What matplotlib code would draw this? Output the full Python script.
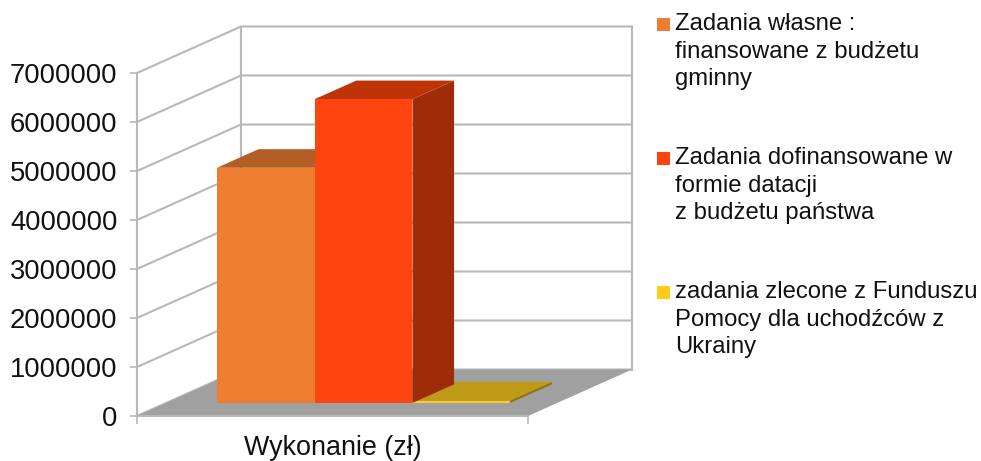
import matplotlib.pyplot as plt

plt.rcParams['font.family'] = ['Liberation Sans', 'DejaVu Sans']

# data
category = "Wykonanie (zł)"
series_names = [
    "Zadania własne :\nfinansowane z budżetu\ngminny",
    "Zadania dofinansowane w\nformie datacji\nz budżetu państwa",
    "zadania zlecone z Funduszu\nPomocy dla uchodźców z\nUkrainy",
]
values = [4800000, 6200000, 50000]
y_ticks = [0, 1000000, 2000000, 3000000, 4000000, 5000000, 6000000, 7000000]

front_colors = ['#ED7D31', '#FF450F', '#FFCC1A']
top_colors = ['#B35E25', '#BF3309', '#BF9A14']
side_colors = ['#A64F17', '#A02B08', '#8F7310']
grid_color = '#B8B8B8'
floor_color = '#A0A0A0'

W, H = 981, 461
# oblique projection: depth 1 moves right and up
DX = 104 / 391
DV = 46.5 / 49 * 1000000
BAR_W = 0.25
GAP = 0.13
Z0, Z1 = 0.28, 0.68


def proj(x, v, z):
    return x + DX * z, v + DV * z


def face(ax, pts, color, zorder):
    xy = [proj(*p) for p in pts]
    ax.fill([p[0] for p in xy], [p[1] for p in xy], color=color, lw=0,
            zorder=zorder, clip_on=False)


def line(ax, pts, zorder=1):
    xy = [proj(*p) for p in pts]
    ax.plot([p[0] for p in xy], [p[1] for p in xy], color=grid_color, lw=1.5,
            zorder=zorder, clip_on=False, solid_capstyle='projecting')


fig = plt.figure(figsize=(W / 100, H / 100), dpi=100)
ax = fig.add_axes([137 / W, 1 - 416 / H, 494 / W, 390 / H])
ax.patch.set_visible(False)
for s in ax.spines.values():
    s.set_visible(False)
ax.set_xlim(0, 494 / 391)
ax.set_ylim(0, 390 / 49 * 1000000)

vmax = y_ticks[-1]
# floor
face(ax, [(0, 0, 0), (1, 0, 0), (1, 0, 1), (0, 0, 1)], floor_color, 2)

# gridlines on both walls
for v in y_ticks:
    line(ax, [(0, v, 0), (0, v, 1), (1, v, 1)])
line(ax, [(0, 0, 1), (0, vmax, 1)])
line(ax, [(1, 0, 1), (1, vmax, 1)])
line(ax, [(0, 0, 0), (0, vmax, 0)], zorder=3)
line(ax, [(0, 0, 0), (1, 0, 0)], zorder=3)

# bars: the red one goes last so its side hides the yellow one
for i in [0, 2, 1]:
    x0 = GAP + i * BAR_W
    x1 = x0 + BAR_W
    v = values[i]
    z = 4 + [0, 2, 1].index(i)
    face(ax, [(x1, 0, Z0), (x1, 0, Z1), (x1, v, Z1), (x1, v, Z0)], side_colors[i], z)
    face(ax, [(x0, v, Z0), (x1, v, Z0), (x1, v, Z1), (x0, v, Z1)], top_colors[i], z)
    face(ax, [(x0, 0, Z0), (x1, 0, Z0), (x1, v, Z0), (x0, v, Z0)], front_colors[i], z)

ax.set_yticks(y_ticks)
ax.set_yticklabels([str(v) for v in y_ticks])
ax.tick_params(axis='y', length=5, width=1.2, color=grid_color, pad=9, labelsize=19.7,
               labelcolor='#111111')
ax.set_xticks([0, 1])
ax.set_xticklabels(['', ''])
ax.tick_params(axis='x', which='major', length=5.5, width=1.2, color=grid_color)
ax.set_xticks([0.5], minor=True)
ax.set_xticklabels([category], minor=True)
ax.tick_params(axis='x', which='minor', length=0, pad=14, labelsize=19.4, labelcolor='#111111')

# legend placed by hand, the marker sits on the first line
legend_tops = [13, 147, 281]
for name, color, top in zip(series_names, front_colors, legend_tops):
    fig.text(675 / W, 1 - top / H, name, fontsize=17.2, va='top', ha='left',
             color='#111111', linespacing=1.33)
    fig.patches.append(plt.Rectangle((657 / W, 1 - (top + 18) / H), 13 / W, 13 / H,
                                     transform=fig.transFigure, color=color, lw=0))

fig.savefig('out.png', dpi=100)
